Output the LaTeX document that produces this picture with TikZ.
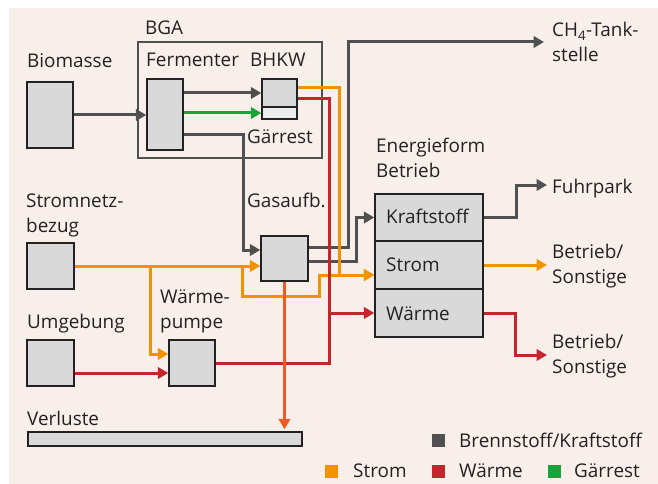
\documentclass[tikz,border=0pt]{standalone}
\usepackage{fontspec}
\setmainfont{Open Sans}
\usetikzlibrary{arrows.meta,calc}
\definecolor{bg}{HTML}{F8EFEA}
\definecolor{dk}{HTML}{505050}
\definecolor{org}{HTML}{F39200}
\definecolor{rd}{HTML}{C4262E}
\definecolor{gr}{HTML}{1AA33A}
\definecolor{verl}{HTML}{EE5A24}
\definecolor{boxfill}{HTML}{D9D9D9}
\definecolor{boxlight}{HTML}{ECECEC}
\definecolor{txt}{HTML}{222222}
\begin{document}
\begin{tikzpicture}[x=1pt,y=-1pt,
  box/.style={draw=txt, line width=1.4pt, fill=boxfill, inner sep=0},
  frame/.style={draw=dk, line width=1.4pt, inner sep=0},
  lbl/.style={inner sep=0, anchor=base west, align=left, text=txt, font=\fontsize{18.9}{25}\selectfont},
  conn/.style={line width=3pt},
  arr/.style={-{Triangle[length=10.5pt,width=11.5pt]}},
  legsq/.style={inner sep=0, minimum width=13pt, minimum height=13pt},
]
\useasboundingbox (0,0) rectangle (658,484);
\fill[white] (0,0) rectangle (658,484);
\fill[bg] (9,8) rectangle (658,484);

% boxes
\node[frame, minimum width=184pt, minimum height=116pt] (bga) at (230,100) {};
\node[box, minimum width=46pt, minimum height=66pt] (bio) at (50,115) {};
\node[box, minimum width=36pt, minimum height=71pt] (ferm) at (165,114.5) {};
\node[box, minimum width=35pt, minimum height=28pt] (bhkwt) at (279.5,93) {};
\node[box, fill=boxlight, minimum width=35pt, minimum height=12pt] (bhkwb) at (279.5,113) {};
\node[box, minimum width=47pt, minimum height=45pt] (gas) at (284.5,258.5) {};
\node[box, minimum width=47pt, minimum height=46pt] (snb) at (50.5,266) {};
\node[box, minimum width=47pt, minimum height=46pt] (umg) at (50.5,363) {};
\node[box, minimum width=46pt, minimum height=46pt] (wp) at (192,363) {};
\node[box, minimum width=108pt, minimum height=47pt] (kraft) at (429,217.5) {};
\node[box, minimum width=108pt, minimum height=48pt] (stromE) at (429,265) {};
\node[box, minimum width=108pt, minimum height=48pt] (waermeE) at (429,313) {};
\node[box, minimum width=274pt, minimum height=14pt] (verlbar) at (165,439) {};

% labels (anchor = baseline of last line)
\node[lbl] (tBio) at (27,68) {Biomasse};
\node[lbl] (tBGA) at (145,35) {BGA};
\node[lbl] (tFerm) at (146,67) {Fermenter};
\node[lbl] (tBHKW) at (250,67) {BHKW};
\node[lbl] (tGar) at (247,143) {Gärrest};
\node[lbl] (tGas) at (247,207) {Gasaufb.};
\node[lbl] (tSnb) at (26,232) {Stromnetz-\\bezug};
\node[lbl] (tUmg) at (27,328) {Umgebung};
\node[lbl] (tWP) at (160,328) {Wärme-\\pumpe};
\node[lbl] (tVerl) at (27,425) {Verluste};
\node[lbl] (tEF) at (376,177) {Energieform\\Betrieb};
\node[lbl] (tCH) at (552,62) {CH\textsubscript{4}-Tank-\\stelle};
\node[lbl] (tFuhr) at (552,193) {Fuhrpark};
\node[lbl] (tKraft) at (386,223) {Kraftstoff};
\node[lbl] (tStromE) at (386,271) {Strom};
\node[lbl] (tWaermeE) at (386,320) {Wärme};
\node[lbl] (tBS1) at (552,283) {Betrieb/\\Sonstige};
\node[lbl] (tBS2) at (552,373) {Betrieb/\\Sonstige};

% legend
\node[legsq, fill=dk] (lgDk) at (438,440) {};
\node[lbl] (lgDkT) at (459,447) {Brennstoff/Kraftstoff};
\node[legsq, fill=org] (lgOr) at (331.5,471) {};
\node[lbl] (lgOrT) at (353,477) {Strom};
\node[legsq, fill=rd] (lgRd) at (438,471) {};
\node[lbl] (lgRdT) at (459,477) {Wärme};
\node[legsq, fill=gr] (lgGr) at (554,471) {};
\node[lbl] (lgGrT) at (574,477) {Gärrest};

% arrow end coordinates
\coordinate (eCH) at (544,42);
\coordinate (eFuhr) at (547,185);
\coordinate (eBS1) at (547,265);
\coordinate (eBS2) at (547,355);

% dark connectors
\draw[conn,dk,arr] (bio.east) -- (ferm.west |- bio.east);
\draw[conn,dk,arr] (ferm.east |- bhkwt.west) -- (bhkwt.west);
\draw[conn,dk,arr] ($(ferm.east)+(0,19.5)$) -- (243,134) -- (243,250) -- ($(gas.west)+(0,-8.5)$);
\draw[conn,dk,arr] ($(gas.east)+(0,-11.5)$) -- (348,247) -- (348,42) -- (eCH);
\draw[conn,dk,arr] ($(gas.east)+(0,2.5)$) -- (356,261) -- (356,217.5) -- (kraft.west);
\draw[conn,dk,arr] (kraft.east) -- (516,217.5) -- (516,185) -- (eFuhr);

% green
\draw[conn,gr,arr] (ferm.east |- bhkwb.west) -- (bhkwb.west);

% orange connectors
\draw[conn,org,arr] (snb.east) -- ($(gas.west)+(0,7.5)$);
\draw[conn,org,arr] (150,266) -- (150,354) -- ($(wp.west)+(0,-9)$);
\draw[conn,org,arr] (242,266) -- (242,296) -- (319,296) -- (319,275) -- ($(stromE.west)+(0,10)$);
\draw[conn,org,arr] ($(bhkwt.east)+(0,-5)$) -- (339.5,88) -- (339.5,275) -- ($(stromE.west)+(0,10)$);
\draw[conn,org,arr] (stromE.east) -- (eBS1);

% red connectors
\draw[conn,rd,arr] ($(umg.east)+(0,10)$) -- ($(wp.west)+(0,10)$);
\draw[conn,rd,arr] ($(bhkwt.east)+(0,6)$) -- (329,99) -- (329,313) -- (waermeE.west);
\draw[conn,rd] (wp.east) -- (329,363) -- (329,313);
\draw[conn,rd,arr] (waermeE.east) -- (515,313) -- (515,355) -- (eBS2);

% losses
\draw[conn,verl,arr,shorten >=2pt] (gas.south) -- (gas.south |- verlbar.north);
\end{tikzpicture}
\end{document}
